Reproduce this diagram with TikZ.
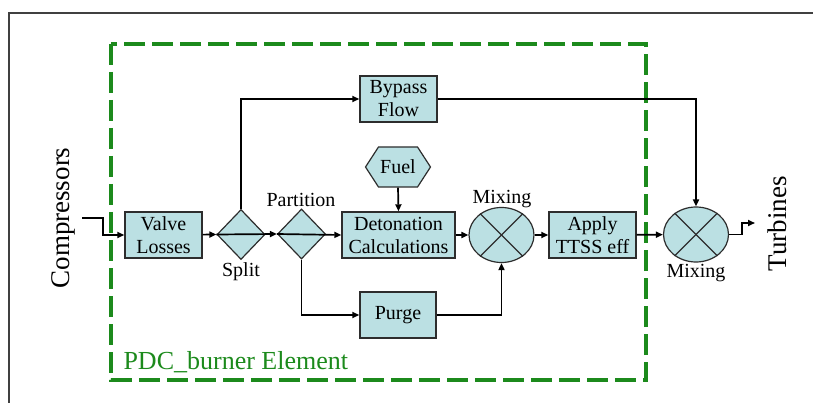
\documentclass[tikz,border=0pt]{standalone}
\usepackage{fontspec}
\setmainfont{Liberation Serif}
\newfontfamily\diagfont{Liberation Serif}
\usepackage{xcolor}
\usetikzlibrary{shapes,arrows.meta,positioning,calc}

\definecolor{boxfill}{RGB}{187,224,227}
\definecolor{boxline}{RGB}{45,45,45}
\definecolor{elemgreen}{RGB}{28,138,28}

\begin{document}
\begin{tikzpicture}[x=1pt,y=-1pt,
    blk/.style={draw=boxline, fill=boxfill, line width=1.4pt, align=center, inner sep=0pt,
        minimum height=46pt, font=\diagfont\fontsize{20}{23}\selectfont},
    split/.style={diamond, draw=boxline, fill=boxfill, line width=1.2pt, inner sep=0pt,
        minimum width=48pt, minimum height=50pt},
    mixer/.style={ellipse, draw=boxline, fill=boxfill, line width=1.2pt, inner sep=0pt,
        minimum width=65pt, minimum height=55pt},
    lbl/.style={font=\diagfont\fontsize{20}{23}\selectfont},
    flow/.style={line width=1.7pt, -{Triangle[length=7pt,width=6pt]}}]
        \useasboundingbox (0,0) rectangle (813,403);
        % Frame
        \draw[line width=1.2pt, black!75] (9,403) -- (9,13) -- (813,13);
        % Element
        \draw[elemgreen, line width=3.5pt, dash pattern=on 21pt off 7pt] (111,44) rectangle (646,380);
        \node[anchor=base west, elemgreen, font=\diagfont\fontsize{26}{29}\selectfont] (elem) at (120,369) {PDC\_burner Element};

        % Blocks
        \node[blk, minimum width=77pt] (valve) at (163.5,235) {Valve\\Losses};
        \node[split] (splt) at (241,234.5) {};
        \node[split] (part) at (301.5,234) {};
        \node[blk, minimum width=113pt] (deto) at (398.5,235) {Detonation\\Calculations};
        \node[blk, minimum width=77pt] (bypass) at (398.5,99) {Bypass\\Flow};
        \node[blk, minimum width=76pt] (purge) at (398,315) {Purge};
        \node[signal, signal to=west and east, signal pointer angle=114, draw=boxline, fill=boxfill,
            line width=1.2pt, inner sep=0pt, minimum width=65pt, minimum height=40pt,
            font=\diagfont\fontsize{20}{23}\selectfont] (fuel) at (398,167) {Fuel};
        \node[mixer] (mixa) at (501.5,235) {};
        \node[blk, minimum width=87pt] (apply) at (592.5,235) {Apply\\TTSS eff};
        \node[mixer] (mixb) at (696,234.5) {};
        \foreach \m in {mixa,mixb} {
            \draw[boxline, line width=1.2pt] (\m.45) -- (\m.225);
            \draw[boxline, line width=1.2pt] (\m.135) -- (\m.315);
        }

        % Labels
        \node[lbl] (lpart) at (301,200) {Partition};
        \node[lbl] (lsplit) at (241,272) {Split};
        \node[lbl] (lmixa) at (502,199) {Mixing};
        \node[lbl] (lmixb) at (696,273) {Mixing};
        \node[rotate=90, font=\diagfont\fontsize{27}{30}\selectfont] (comp) at (63,218) {Compressors};
        \node[rotate=90, font=\diagfont\fontsize{27}{30}\selectfont] (turb) at (777,224) {Turbines};

        % Flow
        \coordinate (cin) at (82,218);
        \coordinate (cout) at (755,223);
        \draw[flow] (cin) -- ++(21,0) |- (valve.west);
        \draw[flow] (valve) -- (splt.west);
        \draw[flow] (splt.west) -- (part.west);
        \draw[flow] (part.west) -- (deto.west);
        \draw[flow] (splt.north) |- (bypass.west);
        \draw[flow] (bypass.east) -| (mixb.north);
        \draw[flow] (fuel.south) -- (deto.north);
        \draw[flow] (part.south) |- (purge.west);
        \draw[flow] (purge.east) -| (mixa.south);
        \draw[flow] (deto) -- (mixa);
        \draw[flow] (mixa) -- (apply);
        \draw[flow] (apply) -- (mixb);
        \draw[flow] (mixb.east) -- ++(13,0) |- (cout);
    \end{tikzpicture}
\end{document}
